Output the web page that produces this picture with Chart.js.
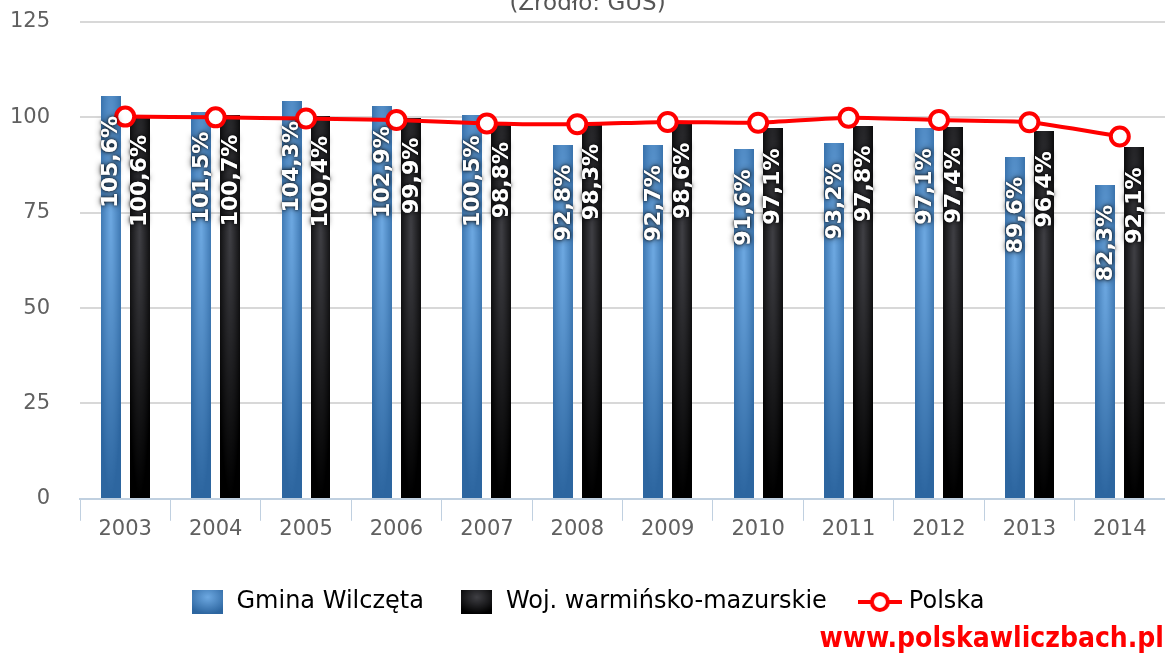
<!DOCTYPE html>
<html>
<head>
<meta charset="utf-8">
<script src="https://cdn.jsdelivr.net/npm/chart.js@4.4.0/dist/chart.umd.min.js"></script>
<style>
  html, body { margin: 0; padding: 0; background: #fff; overflow: hidden; }
  #wrap { position: relative; width: 1165px; height: 655px; }
  #source { position: absolute; top: -9px; left: 0; width: 1175px; text-align: center;
    font: 23px/23px "DejaVu Sans", sans-serif; color: #555; }
  #www { position: absolute; right: 1px; bottom: 1px; font: bold 28px "DejaVu Sans", sans-serif;
    font-stretch: condensed; color: #ff0000; }
</style>
</head>
<body>
<div id="wrap">
  <canvas id="chart" width="1165" height="655"></canvas>
  <div id="source">(Źródło: GUS)</div>
  <div id="www">www.polskawliczbach.pl</div>
</div>
<script>
// dane
const years = ['2003', '2004', '2005', '2006', '2007', '2008', '2009', '2010', '2011', '2012', '2013', '2014'];
const gmina = [105.6, 101.5, 104.3, 102.9, 100.5, 92.8, 92.7, 91.6, 93.2, 97.1, 89.6, 82.3];
const woj = [100.6, 100.7, 100.4, 99.9, 98.8, 98.3, 98.6, 97.1, 97.8, 97.4, 96.4, 92.1];
const polska = [100.2, 100.0, 99.7, 99.3, 98.4, 98.2, 98.8, 98.6, 99.9, 99.3, 98.7, 95.0];
const yTicks = [0, 25, 50, 75, 100, 125];

const FONT = '"DejaVu Sans"';
const blueStops = ['#6ea9e2', '#2d66a0'];
const blackStops = ['#404045', '#000000'];

// radial gradient stretched to the box, like highcharts does it
function gradCanvas(w, h, stops) {
  const c = document.createElement('canvas');
  c.width = Math.max(1, Math.round(w));
  c.height = Math.max(1, Math.round(h));
  const g = c.getContext('2d');
  g.scale(c.width, c.height);
  const rg = g.createRadialGradient(0.5, 0.3, 0, 0.5, 0.3, 0.7);
  rg.addColorStop(0, stops[0]);
  rg.addColorStop(1, stops[1]);
  g.fillStyle = rg;
  g.fillRect(0, 0, 1, 1);
  return c;
}

function lineSymbol() {
  const c = document.createElement('canvas');
  c.width = 44; c.height = 24;
  const g = c.getContext('2d');
  g.strokeStyle = '#ff0000';
  g.lineWidth = 4;
  g.beginPath(); g.moveTo(0, 12); g.lineTo(44, 12); g.stroke();
  g.beginPath(); g.arc(22, 12, 8, 0, Math.PI * 2);
  g.fillStyle = '#fff'; g.fill(); g.stroke();
  return c;
}

const barFill = {
  id: 'barFill',
  beforeDatasetDraw(chart, args) {
    const ds = chart.data.datasets[args.index];
    if (!ds.stops) return;
    const ctx = chart.ctx;
    args.meta.data.forEach(el => {
      const { x, y, base, width } = el.getProps(['x', 'y', 'base', 'width'], true);
      const h = base - y;
      const img = gradCanvas(width, h, ds.stops);
      ctx.save();
      ctx.drawImage(img, x - width / 2, y, width, h);
      ctx.restore();
    });
    return false;
  }
};

const barLabels = {
  id: 'barLabels',
  afterDatasetsDraw(chart) {
    const ctx = chart.ctx;
    chart.data.datasets.forEach((ds, i) => {
      if (!ds.stops) return;
      chart.getDatasetMeta(i).data.forEach((el, j) => {
        const txt = ds.data[j].toFixed(1).replace('.', ',') + '%';
        ctx.save();
        ctx.translate(el.x + 1, el.y + 20);
        ctx.rotate(-Math.PI / 2);
        ctx.font = 'bold 22px ' + FONT;
        ctx.textAlign = 'right';
        ctx.textBaseline = 'middle';
        ctx.fillStyle = '#fff';
        ctx.shadowColor = 'rgba(0,0,0,0.85)';
        ctx.shadowBlur = 6;
        ctx.fillText(txt, 0, 0);
        ctx.shadowBlur = 3;
        ctx.fillText(txt, 0, 0);
        ctx.restore();
      });
    });
  }
};

const ctx = document.getElementById('chart').getContext('2d');
new Chart(ctx, {
  type: 'bar',
  data: {
    labels: years,
    datasets: [
      {
        label: 'Gmina Wilczęta',
        data: gmina,
        stops: blueStops,
        backgroundColor: '#5b95d0',
        categoryPercentage: 0.64,
        barPercentage: 0.69,
        order: 1,
      },
      {
        label: 'Woj. warmińsko-mazurskie',
        data: woj,
        stops: blackStops,
        backgroundColor: '#222',
        categoryPercentage: 0.64,
        barPercentage: 0.69,
        order: 2,
      },
      {
        type: 'line',
        label: 'Polska',
        data: polska,
        borderColor: '#ff0000',
        borderWidth: 4,
        pointRadius: 9,
        pointBorderWidth: 4,
        pointBackgroundColor: '#fff',
        pointBorderColor: '#ff0000',
        tension: 0.2,
        clip: false,
        order: 0,
      },
    ],
  },
  options: {
    responsive: false,
    animation: false,
    layout: { autoPadding: false, padding: { left: 10, right: 0, top: 22, bottom: 31 } },
    plugins: {
      title: { display: false },
      tooltip: { enabled: false },
      legend: {
        position: 'bottom',
        labels: {
          usePointStyle: true,
          pointStyleWidth: 34,
          boxHeight: 24,
          padding: 36,
          color: '#333',
          font: { family: FONT, size: 24 },
          generateLabels: chart => chart.data.datasets.map((ds, i) => ({
            text: ds.label,
            datasetIndex: i,
            pointStyle: ds.stops ? gradCanvas(31, 24, ds.stops) : lineSymbol(),
            lineWidth: 0,
            hidden: false,
          })),
        },
      },
    },
    scales: {
      x: {
        afterFit: a => { a.paddingLeft = 0; a.paddingRight = 0; a.height += 16; },
        grid: {
          offset: true,
          drawOnChartArea: false,
          drawTicks: true,
          tickLength: 22,
          color: '#c0d0e0',
        },
        border: { color: '#c0d0e0', width: 2 },
        ticks: {
          color: '#606060',
          padding: -4,
          font: { family: FONT, size: 21 },
        },
      },
      y: {
        min: 0,
        max: 125,
        afterBuildTicks: axis => { axis.ticks = yTicks.map(v => ({ value: v })); },
        afterFit: a => { a.width = 70; a.paddingTop = 0; a.paddingBottom = 0; },
        grid: { color: '#d8d8d8', lineWidth: 2, drawTicks: false },
        border: { display: false },
        ticks: {
          color: '#606060',
          padding: 30,
          font: { family: FONT, size: 21 },
        },
      },
    },
  },
  plugins: [barFill, barLabels],
});
</script>
</body>
</html>
